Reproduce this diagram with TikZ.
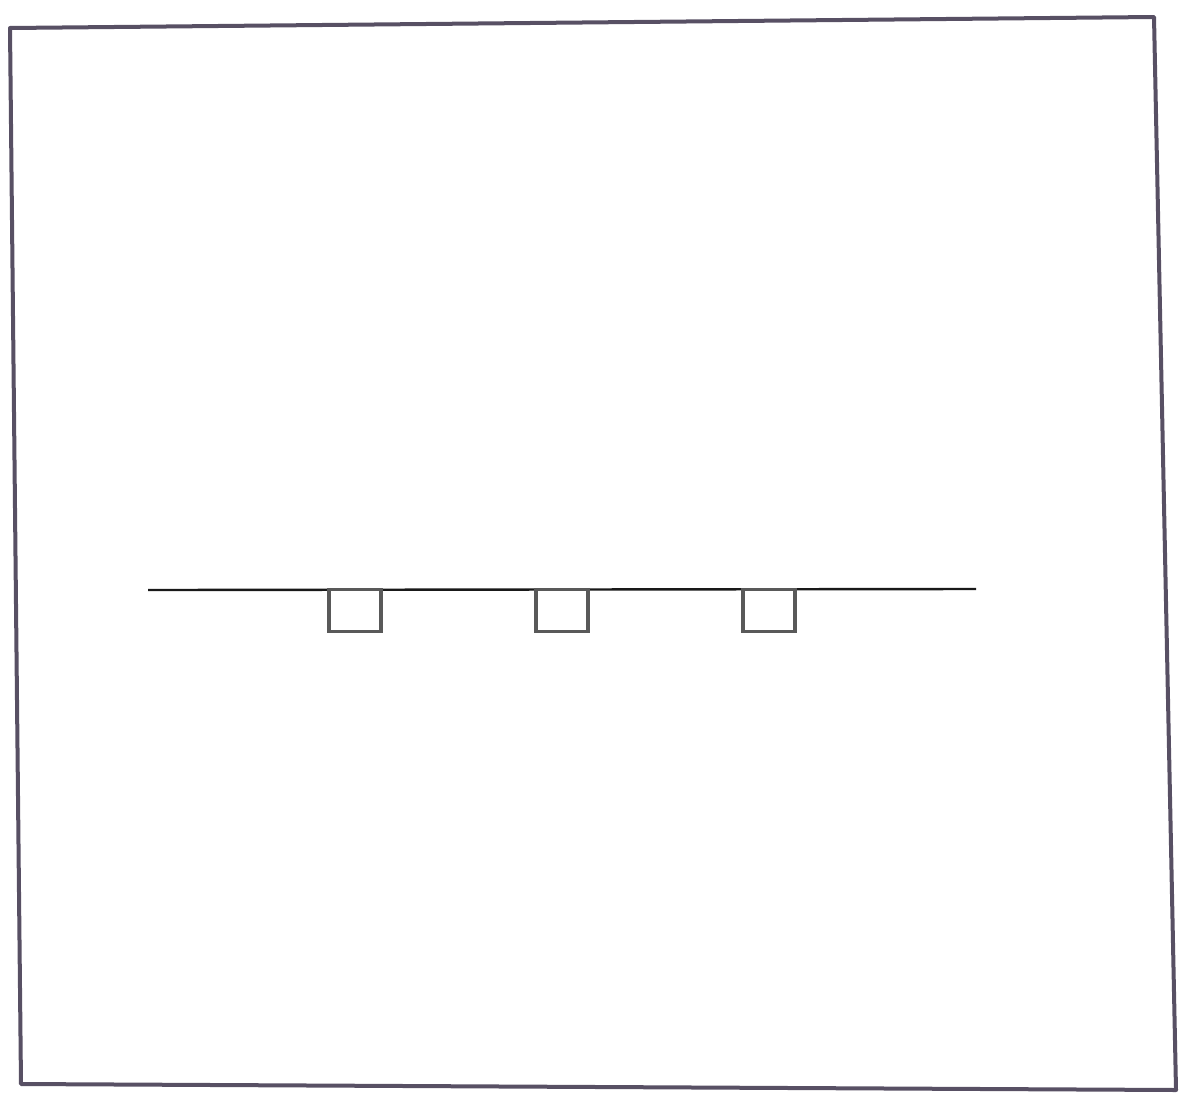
\documentclass[tikz,border=0pt]{standalone}
\begin{document}
\begin{tikzpicture}[x=1pt,y=-1pt,
  frame/.style={draw={rgb,255:red,88;green,80;blue,100}, line width=4pt, line join=round},
  wire/.style={draw=black!90, line width=2.4pt},
  box/.style={draw=black!65, line width=3.2pt, fill=white, inner sep=0pt,
    minimum width=52pt, minimum height=42pt, anchor=north}]
\useasboundingbox (0,0) rectangle (1180,1106);
\fill[white] (0,0) rectangle (1180,1106);
\draw[frame] (10,28) -- (1154,17) -- (1176,1090) -- (21,1084) -- cycle;
\coordinate (L) at (148,590);
\coordinate (R) at (976,589);
\draw[wire] (L) -- (R);
\node[box] (s1) at (355,588) {};
\node[box] (s2) at (562,588) {};
\node[box] (s3) at (769,588) {};
\end{tikzpicture}
\end{document}
